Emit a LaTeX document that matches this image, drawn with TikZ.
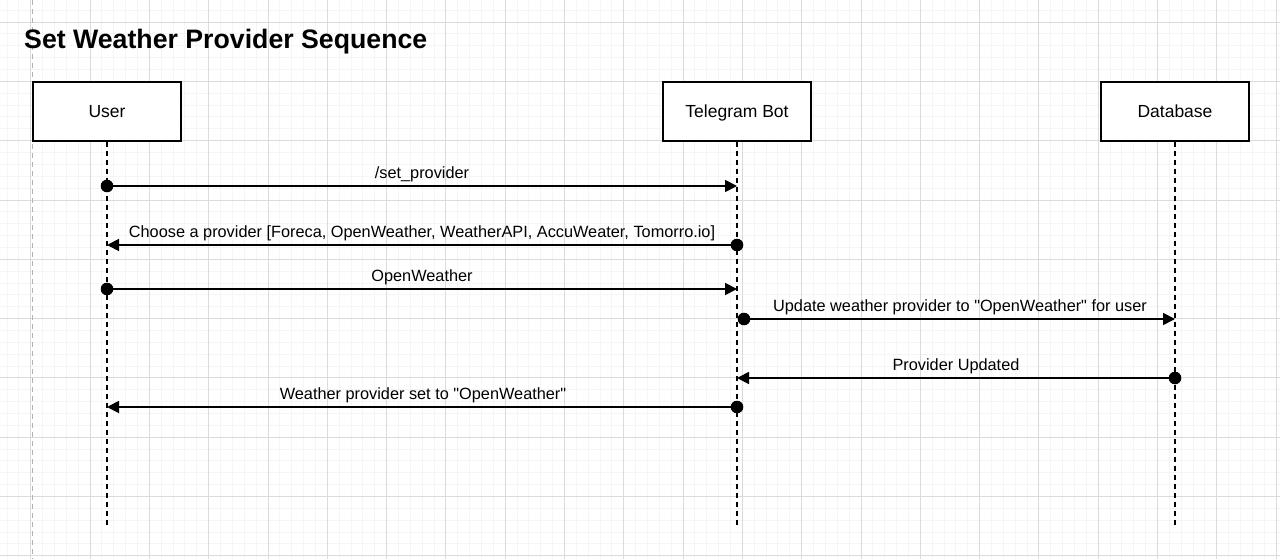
\documentclass[tikz,border=0pt]{standalone}
\usepackage{fontspec}
\setmainfont{Liberation Sans}[Ligatures=TeXOff]
\usepackage{tikz}
\usetikzlibrary{arrows.meta,positioning,calc}

\begin{document}
\begin{tikzpicture}[
    x=1pt, y=-1pt,
    actor/.style={rectangle, draw=black, fill=white, line width=1.4pt, minimum width=148pt, minimum height=59pt, text height=12pt, text depth=0pt, font=\fontsize{17.5}{20}\selectfont},
    lifeline/.style={dashed, dash pattern=on 5pt off 4pt, line width=1.3pt},
    msg/.style={-{Triangle[length=12pt,width=12pt]}, line width=1.8pt},
    msglabel/.style={font=\fontsize{16.3}{19}\selectfont, inner sep=0pt},
    minorgrid/.style={draw=black!4, line width=0.8pt},
    majorgrid/.style={draw=black!14, line width=0.8pt}
]
    \useasboundingbox (0,0) rectangle (1280,559);
    \fill[white] (0,0) rectangle (1280,559);

    % Grid
    \foreach \k in {-2,...,108} {
        \draw[minorgrid] ({30.7+\k*11.86},0) -- ({30.7+\k*11.86},559);
    }
    \foreach \k in {-1,...,46} {
        \draw[minorgrid] (0,{22+\k*11.86}) -- (1280,{22+\k*11.86});
    }
    \foreach \k in {0,...,21} {
        \draw[majorgrid] ({30.7+\k*59.3},0) -- ({30.7+\k*59.3},559);
    }
    \foreach \k in {0,...,9} {
        \draw[majorgrid] (0,{22+\k*59.3}) -- (1280,{22+\k*59.3});
    }
    \draw[black!30, dashed, dash pattern=on 5pt off 4pt, line width=1pt] (32,0) -- (32,559);

    % Title
    \node[anchor=west, font=\bfseries\fontsize{26.7}{30}\selectfont, inner sep=0pt] (title) at (24,41.5) {Set Weather Provider Sequence};

    % Actors
    \node[actor] (user) at (107,111.5) {User};
    \node[actor] (bot) at (737,111.5) {Telegram Bot};
    \node[actor] (db) at (1175,111.5) {Database};

    % Lifelines
    \coordinate (userend) at (107,525);
    \coordinate (botend) at (737,525);
    \coordinate (dbend) at (1175,525);
    \draw[lifeline] (user.south) -- (userend);
    \draw[lifeline] (bot.south) -- (botend);
    \draw[lifeline] (db.south) -- (dbend);

    % Messages
    \draw[msg] (user.south |- 0,186) -- (bot.south |- 0,186);
    \fill (user.south |- 0,186) circle (6.3pt);
    \node[msglabel] at (422,174) {/set\_provider};

    \draw[msg] (bot.south |- 0,245) -- (user.south |- 0,245);
    \fill (bot.south |- 0,245) circle (6.3pt);
    \node[msglabel] at (422,233) {Choose a provider [Foreca, OpenWeather, WeatherAPI, AccuWeater, Tomorro.io]};

    \draw[msg] (user.south |- 0,289) -- (bot.south |- 0,289);
    \fill (user.south |- 0,289) circle (6.3pt);
    \node[msglabel] at (422,277) {OpenWeather};

    \draw[msg] ([xshift=7pt]bot.south |- 0,319) -- (db.south |- 0,319);
    \fill ([xshift=7pt]bot.south |- 0,319) circle (6.3pt);
    \node[msglabel] at (960,307) {Update weather provider to "OpenWeather" for user};

    \draw[msg] (db.south |- 0,378) -- (bot.south |- 0,378);
    \fill (db.south |- 0,378) circle (6.3pt);
    \node[msglabel] at (956,366) {Provider Updated};

    \draw[msg] (bot.south |- 0,407) -- (user.south |- 0,407);
    \fill (bot.south |- 0,407) circle (6.3pt);
    \node[msglabel] at (423,395) {Weather provider set to "OpenWeather"};
\end{tikzpicture}
\end{document}
